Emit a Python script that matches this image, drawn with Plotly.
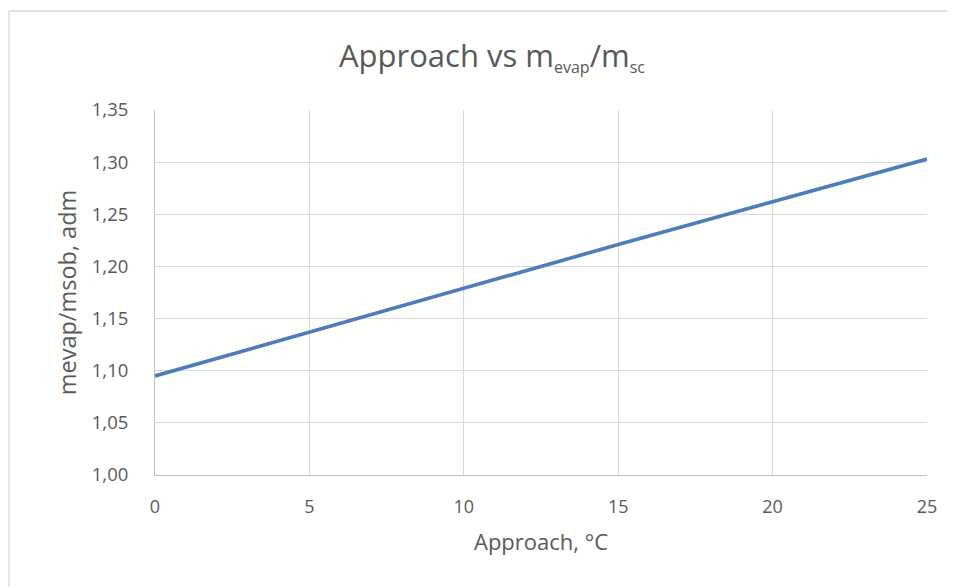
import plotly.graph_objects as go

approach = [0, 5, 10, 15, 20, 25]
ratio = [1.095, 1.137, 1.179, 1.221, 1.262, 1.303]
x_ticks = [0, 5, 10, 15, 20, 25]
y_ticks = [1.00, 1.05, 1.10, 1.15, 1.20, 1.25, 1.30, 1.35]

FONT = "Open Sans"
GREY = "#595959"
W, H = 947, 579   # page body has 8px margin

fig = go.Figure()
fig.add_trace(go.Scatter(x=approach, y=ratio, mode="lines",
                         line=dict(color="#4a7ebb", width=3.6), showlegend=False))

title_text = ("Approach vs m<sub><span style='font-size:16px'>evap</span></sub>"
              "/m<sub><span style='font-size:16px'>sc</span></sub>")

bx0 = (9 - 155) / 772
by1 = (475 - 11) / 365

fig.update_layout(
    width=W, height=H,
    margin=dict(l=147, r=28, t=102, b=112, pad=0),
    paper_bgcolor="white", plot_bgcolor="white",
    separators=",.",
    font=dict(family=FONT, color=GREY),
    title=dict(text=title_text,
               x=484 / W, xref="container", xanchor="center",
               y=1 - 48 / H, yref="container", yanchor="middle",
               font=dict(size=31, color=GREY, family=FONT)),
    xaxis=dict(range=[0, 25], tickvals=x_ticks, showgrid=True, gridcolor="#d9d9d9",
               gridwidth=1, zeroline=False, showline=True, linecolor="#bfbfbf",
               tickfont=dict(size=18, color=GREY), ticklabelstandoff=15,
               title=dict(text="Approach, °C", font=dict(size=22, color=GREY), standoff=18)),
    yaxis=dict(range=[1.0, 1.35], tickvals=y_ticks, tickformat=".2f", showgrid=True,
               gridcolor="#d9d9d9", gridwidth=1, zeroline=False, showline=True,
               linecolor="#bfbfbf", tickfont=dict(size=18.5, color=GREY),
               ticklabelstandoff=22,
               title=dict(text="mevap/msob, adm", font=dict(size=23.5, color=GREY), standoff=8)),
    shapes=[
        dict(type="line", xref="paper", yref="paper", x0=bx0, x1=bx0, y0=-0.6, y1=by1,
             line=dict(color="#d9d9d9", width=1.3), layer="below"),
        dict(type="line", xref="paper", yref="paper", x0=bx0, x1=1.2, y0=by1, y1=by1,
             line=dict(color="#d9d9d9", width=1.3), layer="below"),
    ],
)

fig.write_html("out.html")
